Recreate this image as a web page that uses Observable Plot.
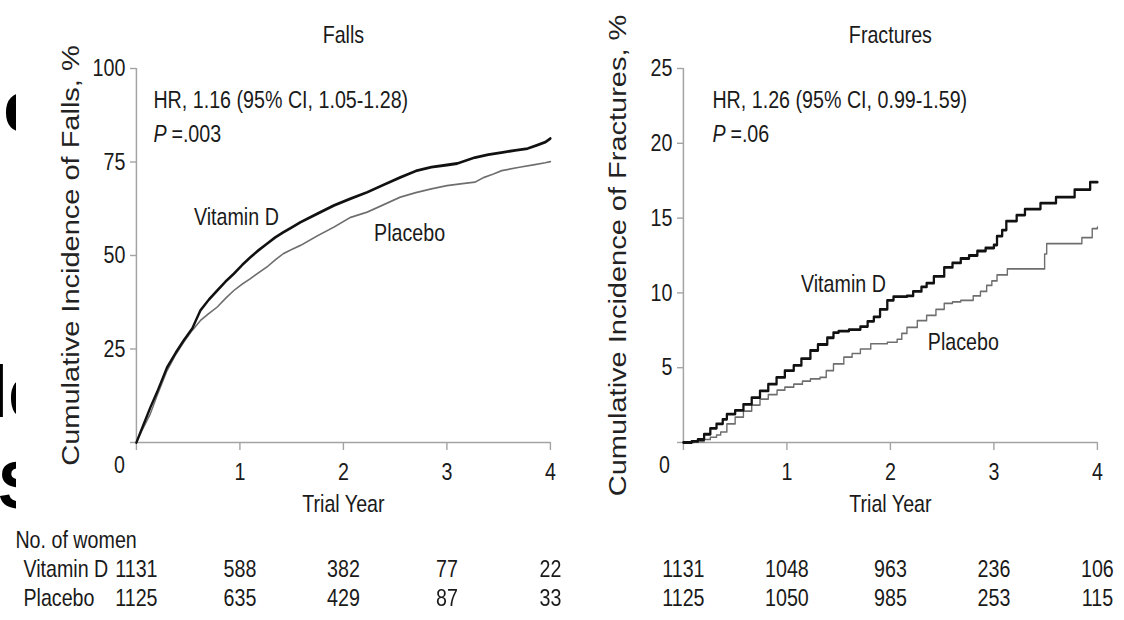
<!DOCTYPE html>
<html><head><meta charset="utf-8">
<script src="https://cdn.jsdelivr.net/npm/d3@7"></script>
<script src="https://cdn.jsdelivr.net/npm/@observablehq/plot@0.6"></script>
<style>
body{margin:0;background:#fff;}
#wrap{position:relative;width:1124px;height:620px;overflow:hidden;background:#fff;}
.panel{position:absolute;top:0;transform-origin:0 0;}
.panel svg{max-width:none !important;}
#bg{position:absolute;left:0;top:0;}
</style></head><body>
<div id="wrap">
  <div id="right" class="panel" style="left:560px"></div>
  <div id="left" class="panel" style="left:0"></div>
  <svg id="bg" width="16" height="620" style="overflow:hidden">
    <g font-family="Liberation Sans, Arial, sans-serif" font-weight="bold" fill="#000">
      <text x="3" y="132" font-size="75">e</text>
      <text x="-12" y="417" font-size="72">ld</text>
      <text x="-2" y="508" font-size="66">S</text>
    </g>
  </svg>
</div>
<script>
// ---------- data ----------
const years = [0, 1, 2, 3, 4];
const yTicksFalls = [0, 25, 50, 75, 100];
const yTicksFract = [0, 5, 10, 15, 20, 25];

const fallsVitD_t = [0,0.05,0.135,0.2,0.296,0.38,0.457,0.54,0.618,0.7,0.78,0.86,0.94,1.02,1.1,1.18,1.26,1.34,1.42,1.5,1.585,1.75,1.91,2.07,2.23,2.39,2.55,2.7,2.85,3.0,3.1,3.27,3.4,3.54,3.66,3.78,3.88,3.95,4.0];
const fallsVitD_v = [0,3.5,9.4,13.5,20.1,24,27.3,30.5,35.3,38.2,40.6,43,45.1,47.4,49.5,51.4,53.1,54.8,56.2,57.5,58.9,61.2,63.4,65.2,66.9,68.9,70.9,72.6,73.6,74.2,74.6,76.2,77,77.6,78.1,78.6,79.6,80.3,81.3];

const fallsPlac_t = [0,0.05,0.135,0.2,0.296,0.38,0.457,0.54,0.618,0.7,0.78,0.86,0.94,1.02,1.1,1.18,1.26,1.34,1.42,1.5,1.585,1.75,1.91,2.07,2.23,2.39,2.55,2.7,2.85,3.0,3.15,3.27,3.36,3.45,3.53,3.7,3.85,3.95,4.0];
const fallsPlac_v = [0,3,7.7,12.5,19.2,23.5,26.8,30,32.6,34.5,36.2,38.5,40.6,42.3,43.8,45.4,46.9,48.8,50.5,51.6,52.7,55.3,57.6,60.2,61.6,63.6,65.6,66.8,67.8,68.7,69.2,69.6,70.9,71.8,72.7,73.6,74.3,74.8,75.1];

const fractVitD_t = [0,0.08,0.14,0.2,0.26,0.32,0.38,0.42,0.5,0.58,0.66,0.74,0.82,0.9,0.98,1.066,1.14,1.227,1.3,1.39,1.45,1.5,1.6,1.71,1.78,1.84,1.9,1.97,2.03,2.16,2.22,2.3,2.35,2.42,2.52,2.6,2.68,2.76,2.84,2.92,3.0,3.03,3.08,3.12,3.22,3.3,3.45,3.6,3.78,3.93,4.0];
const fractVitD_v = [0,0.07,0.2,0.55,0.95,1.25,1.55,1.9,2.15,2.55,3.0,3.45,3.9,4.35,4.8,5.15,5.6,6.15,6.55,7.0,7.35,7.45,7.55,7.75,8.1,8.4,8.9,9.5,9.75,9.8,10.1,10.4,10.65,11.1,11.7,12.0,12.3,12.5,12.8,13.0,13.2,13.8,14.2,14.8,15.2,15.6,16.0,16.4,16.9,17.4,17.4];

const fractPlac_t = [0,0.1,0.2,0.26,0.32,0.36,0.42,0.5,0.58,0.66,0.74,0.82,0.905,0.98,1.066,1.15,1.227,1.32,1.38,1.45,1.55,1.63,1.71,1.81,1.97,2.065,2.11,2.16,2.26,2.35,2.44,2.52,2.6,2.68,2.8,2.87,2.93,2.98,3.03,3.13,3.49,3.51,3.85,3.95,4.0];
const fractPlac_v = [0,0.05,0.2,0.35,0.5,0.7,1.25,1.7,2.1,2.5,2.9,3.2,3.5,3.7,3.9,4.1,4.25,4.35,4.8,5.25,5.7,5.95,6.25,6.6,6.7,6.9,7.3,7.7,8.15,8.5,8.9,9.3,9.4,9.5,9.8,10.1,10.5,10.8,11.2,11.6,12.6,13.3,13.7,14.3,14.4];

const fallsN_VitD = [1131, 588, 382, 77, 22];
const fallsN_Plac = [1125, 635, 429, 87, 33];
const fractN_VitD = [1131, 1048, 963, 236, 106];
const fractN_Plac = [1125, 1050, 985, 253, 115];

const rowNames = ["Vitamin D", "Placebo"];

// ---------- helpers ----------
const S = 0.82;                 // horizontal condensation of the whole figure
const h = px => px / S;         // screen px -> unscaled px
const pts = (ts, vs) => ts.map((t, i) => ({t, v: vs[i]}));
const counts = ns => years.map((t, i) => ({t, n: String(ns[i])}));

const FONT = "'Liberation Sans',Arial,sans-serif";
const AXIS = "#a3a3a3";
const INK = "#1a1a1a";

function panel(o) {
  const ml = h(o.marginLeft);
  const fs = 24;
  return Plot.plot({
    width: h(o.width), height: 620,
    marginLeft: ml, marginRight: h(o.marginRight), marginTop: 68, marginBottom: 178,
    x: {domain: [0, 4]},
    y: {domain: [0, o.ymax]},
    style: {fontFamily: FONT, fontSize: "24px", color: INK, background: "white", overflow: "visible", maxWidth: "none"},
    marks: [
      Plot.ruleX([0], {stroke: AXIS, strokeWidth: 1.8}),
      Plot.ruleY([0], {stroke: AXIS, strokeWidth: 1.5}),
      Plot.axisY({ticks: o.yTicks, tickSize: h(6), tickPadding: h(5), tickFormat: d => d === 0 ? "" : d,
        label: null, stroke: AXIS, strokeWidth: 1.4, fill: INK, fontSize: fs}),
      Plot.axisX({ticks: years, tickSize: 8, tickPadding: 12, tickFormat: d => d === 0 ? "" : d,
        label: null, stroke: AXIS, strokeWidth: 1.7, fill: INK, fontSize: fs}),
      // origin "0"
      Plot.text([0], {x: d => d, text: () => "0", frameAnchor: "bottom", dx: h(o.zeroDx), dy: 31, fill: INK, fontSize: fs}),
      // curves
      Plot.line(o.plac, {x: "t", y: "v", stroke: "#6e6e6e", strokeWidth: 1.7, curve: o.curve}),
      Plot.line(o.vitd, {x: "t", y: "v", stroke: "#111", strokeWidth: 2.8, curve: o.curve}),
      // series labels
      Plot.text(o.labels, {x: "t", y: "v", text: "s", fill: INK, fontSize: fs}),
      // title
      Plot.text([2], {x: d => d, text: () => o.title, frameAnchor: "top", dy: -43, fill: INK, fontSize: fs}),
      // HR / P
      Plot.text([o.hr], {frameAnchor: "top-left", dx: h(o.hrDx), dy: 22, textAnchor: "start", fill: INK, fontSize: fs}),
      Plot.text(["P"], {frameAnchor: "top-left", dx: h(o.hrDx), dy: 56, textAnchor: "start", fontStyle: "italic", fill: INK, fontSize: fs}),
      Plot.text([o.p], {frameAnchor: "top-left", dx: h(o.hrDx + 18), dy: 56, textAnchor: "start", fill: INK, fontSize: fs}),
      // y label
      Plot.text([o.ylabel], {frameAnchor: "left", dx: h(-65), rotate: -90, textAnchor: "middle", fontSize: 29, fill: "#222"}),
      // x label
      Plot.text([2], {x: d => d, text: () => "Trial Year", frameAnchor: "bottom", dy: 70, fill: INK, fontSize: fs}),
      // at-risk table
      ...(o.tableHead ? [
        Plot.text(["No. of women"], {frameAnchor: "bottom-left", dx: h(15) - ml, dy: 106, textAnchor: "start", fill: INK, fontSize: fs}),
        Plot.text([rowNames[0]], {frameAnchor: "bottom-left", dx: h(23) - ml, dy: 135, textAnchor: "start", fill: INK, fontSize: fs}),
        Plot.text([rowNames[1]], {frameAnchor: "bottom-left", dx: h(23) - ml, dy: 164, textAnchor: "start", fill: INK, fontSize: fs})
      ] : []),
      Plot.text(counts(o.nVitD), {x: "t", text: "n", frameAnchor: "bottom", dy: 135, fill: INK, fontSize: fs}),
      Plot.text(counts(o.nPlac), {x: "t", text: "n", frameAnchor: "bottom", dy: 164, fill: INK, fontSize: fs})
    ]
  });
}

function mount(id, opts) {
  const div = document.getElementById(id);
  div.style.width = h(opts.width) + "px";
  div.style.transform = `scaleX(${S})`;
  div.appendChild(panel(opts));
}

mount("left", {
  width: 560, marginLeft: 136, marginRight: 10, ymax: 100, yTicks: yTicksFalls,
  vitd: pts(fallsVitD_t, fallsVitD_v), plac: pts(fallsPlac_t, fallsPlac_v), curve: "linear",
  labels: [{t: 0.966, v: 60.2, s: "Vitamin D"}, {t: 2.64, v: 55.9, s: "Placebo"}],
  title: "Falls", hr: "HR, 1.16 (95% CI, 1.05-1.28)", p: "=.003", hrDx: 17,
  ylabel: "Cumulative Incidence of Falls, %", zeroDx: -17,
  nVitD: fallsN_VitD, nPlac: fallsN_Plac, tableHead: true
});

mount("right", {
  width: 564, marginLeft: 123, marginRight: 27, ymax: 25, yTicks: yTicksFract,
  vitd: pts(fractVitD_t, fractVitD_v), plac: pts(fractPlac_t, fractPlac_v), curve: "step-after",
  labels: [{t: 1.546, v: 10.6, s: "Vitamin D"}, {t: 2.705, v: 6.7, s: "Placebo"}],
  title: "Fractures", hr: "HR, 1.26 (95% CI, 0.99-1.59)", p: "=.06", hrDx: 29,
  ylabel: "Cumulative Incidence of Fractures, %", zeroDx: -19,
  nVitD: fractN_VitD, nPlac: fractN_Plac, tableHead: false
});
</script>
</body></html>
